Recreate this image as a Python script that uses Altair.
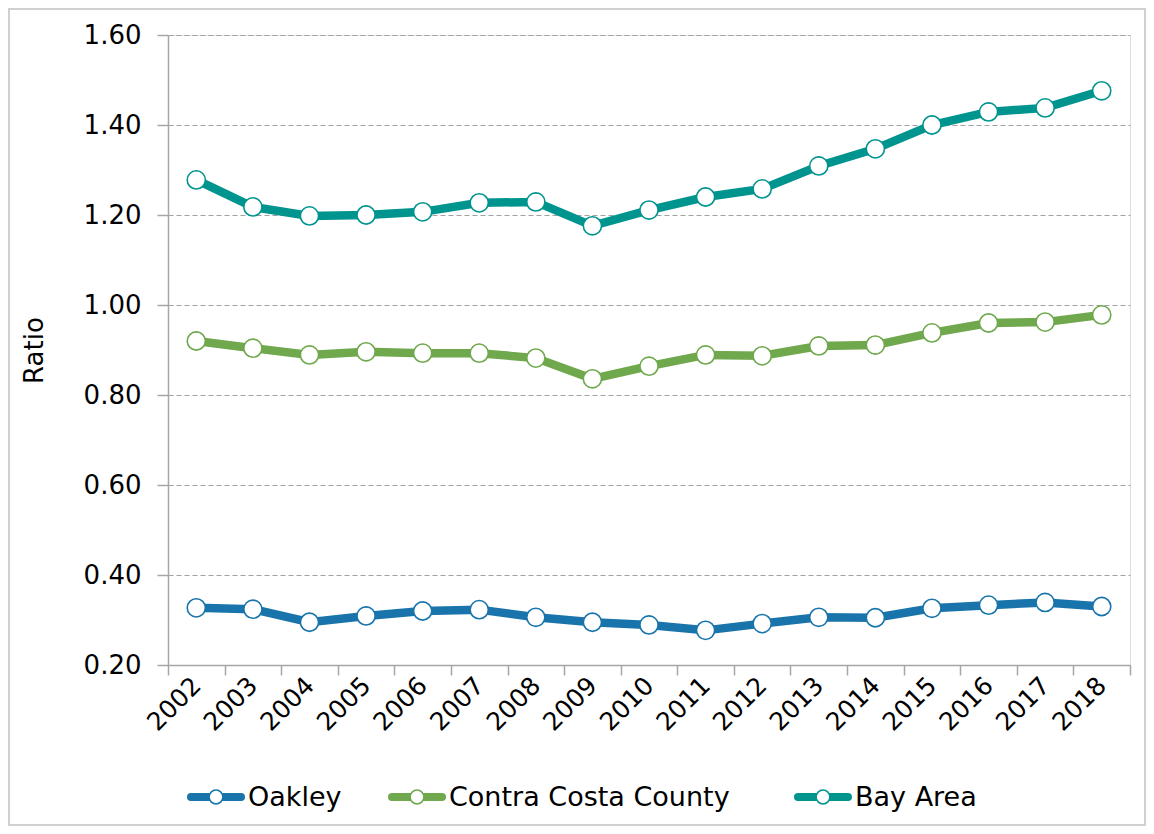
import altair as alt
import pandas as pd

years = [str(y) for y in range(2002, 2019)]
series = ["Oakley", "Contra Costa County", "Bay Area"]
oakley = [0.327, 0.324, 0.295, 0.309, 0.320, 0.323, 0.306, 0.295, 0.289, 0.277,
          0.292, 0.306, 0.305, 0.326, 0.333, 0.339, 0.330]
contra = [0.920, 0.904, 0.889, 0.896, 0.893, 0.893, 0.882, 0.836, 0.864, 0.889,
          0.887, 0.909, 0.911, 0.938, 0.960, 0.962, 0.978]
bay = [1.278, 1.218, 1.198, 1.200, 1.207, 1.227, 1.229, 1.176, 1.211, 1.240,
       1.258, 1.309, 1.347, 1.400, 1.429, 1.438, 1.476]
colors = ["#1874AA", "#6FA84D", "#00948F"]

rows = []
for name, vals in zip(series, [oakley, contra, bay]):
    for y, v in zip(years, vals):
        rows.append({"Year": y, "Series": name, "Ratio": v})
df = pd.DataFrame(rows)

FONT = "DejaVu Sans"

x_enc = alt.X("Year:N", sort=years,
              scale=alt.Scale(paddingInner=0, paddingOuter=0),
              axis=alt.Axis(title=None, labelAngle=-45, labelAlign="right",
                            labelBaseline="middle", labelFontSize=25,
                            labelFont=FONT, labelColor="#000000",
                            labelPadding=6, tickBand="extent", tickSize=10,
                            tickColor="#A6A6A6", domainColor="#A6A6A6",
                            domainWidth=1.5, tickWidth=1.5, grid=False))
y_enc = alt.Y("Ratio:Q",
              scale=alt.Scale(domain=[0.2, 1.6], nice=False, zero=False),
              axis=alt.Axis(title="Ratio", values=[0.2, 0.4, 0.6, 0.8, 1.0, 1.2, 1.4, 1.6],
                            format=".2f", labelFontSize=26, labelFont=FONT,
                            labelColor="#000000", labelPadding=16, tickSize=11,
                            tickColor="#A6A6A6", domainColor="#A6A6A6",
                            domainWidth=1.5, tickWidth=1.5,
                            grid=True, gridDash=[5, 3], gridColor="#A0A0A0",
                            gridWidth=1.2, titleFont=FONT, titleFontSize=26,
                            titleFontWeight="normal", titleColor="#000000",
                            titleX=-121, titleY=315))

scale_c = alt.Scale(domain=series, range=colors)

lines = alt.Chart(df).mark_line(strokeWidth=8.5).encode(
    x=x_enc, y=y_enc,
    stroke=alt.Stroke("Series:N", scale=scale_c, legend=None),
    detail="Series:N",
)
points = alt.Chart(df).mark_point(filled=False, size=330, strokeWidth=1.6,
                                  fill="white", fillOpacity=1, opacity=1).encode(
    x=x_enc, y=y_enc,
    stroke=alt.Stroke("Series:N", scale=scale_c, legend=None),
)

# manual legend (layout: symbol centres in plot-area pixels)
legend_centres = [48, 249, 655]
legend_y = 762
legend_layers = []
for name, col, cx in zip(series, colors, legend_centres):
    src = pd.DataFrame({"Series": [name]})
    bar = alt.Chart(src).mark_rule(color=col, strokeWidth=8, strokeCap="round").encode(
        x=alt.value(cx - 25), x2=alt.value(cx + 25), y=alt.value(legend_y))
    dot = alt.Chart(src).mark_point(filled=False, fill="white", fillOpacity=1,
                                    stroke=col, strokeWidth=1.5, size=190,
                                    opacity=1).encode(
        x=alt.value(cx), y=alt.value(legend_y))
    txt = alt.Chart(src).mark_text(align="left", baseline="middle", font=FONT,
                                   fontSize=27, color="#000000").encode(
        x=alt.value(cx + 32), y=alt.value(legend_y + 1), text="Series:N")
    legend_layers += [bar, dot, txt]

border = alt.Chart(df).mark_rect(filled=False, stroke="#D0D0D0", strokeWidth=1.5).encode(
    x=alt.value(-159), x2=alt.value(977), y=alt.value(-26), y2=alt.value(790)
)

chart = alt.layer(border, lines, points, *legend_layers).properties(
    width=962, height=630,
    autosize=alt.AutoSizeParams(type="none"),
    padding={"left": 160, "top": 27, "right": 16, "bottom": 161},
).configure_view(stroke=None).configure(background="white")

chart.save("out.html", embed_options={"renderer": "svg", "actions": False})
